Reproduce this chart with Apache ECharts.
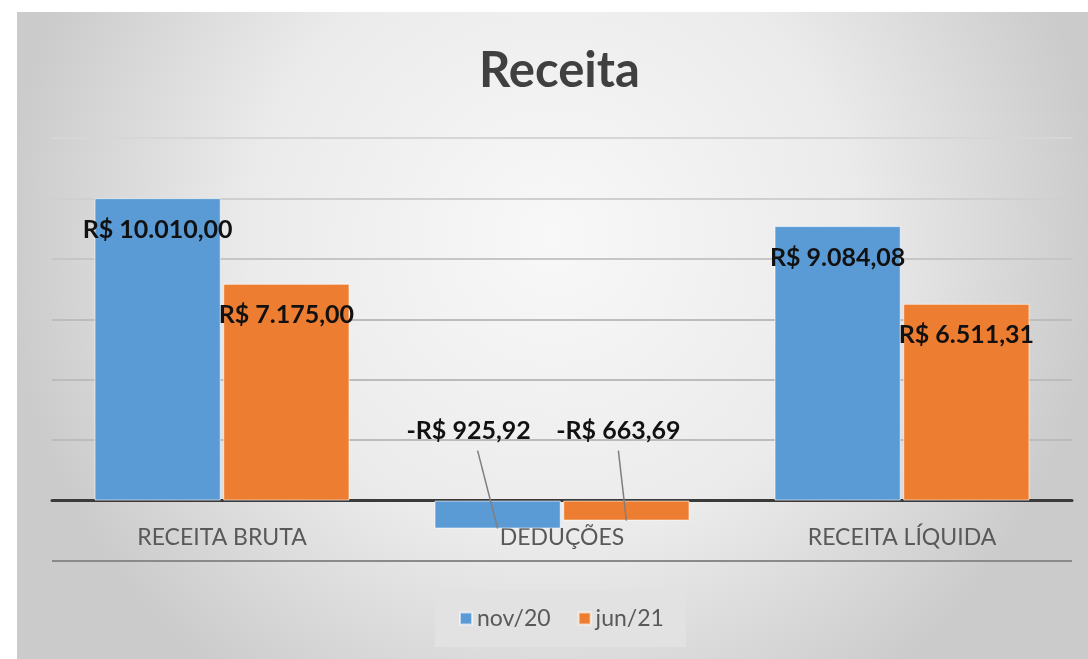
<!DOCTYPE html>
<html>
<head>
    <meta charset="UTF-8">
    <title>Receita</title>
    <script src="https://cdn.jsdelivr.net/npm/echarts/dist/echarts.min.js"></script>
    <style>
        body { margin: 0; background: #ffffff; }
        #chart { position: absolute; left: 17px; top: 12px; width: 1071px; height: 647px; }
    </style>
</head>
<body>
    <div id="chart"></div>
    <script type="text/javascript">
        var myChart = echarts.init(document.getElementById('chart'));

        // data
        var categories = ['RECEITA BRUTA', 'DEDUÇÕES', 'RECEITA LÍQUIDA'];
        var nov20 = [10010.00, -925.92, 9084.08];
        var jun21 = [7175.00, -663.69, 6511.31];

        // pt-BR currency text, e.g. R$ 10.010,00
        function brl(v) {
            var neg = v < 0;
            var parts = Math.abs(v).toFixed(2).split('.');
            var intPart = parts[0].replace(/\B(?=(\d{3})+(?!\d))/g, '.');
            return (neg ? '-' : '') + 'R$ ' + intPart + ',' + parts[1];
        }

        var font = 'Lato, "Open Sans", sans-serif';

        // where the moved labels ended up, so the leader lines can be drawn afterwards
        var leaders = {};

        // labels of the negative bars sit above the axis
        function moveNegative(shift, lineDx) {
            return function (p) {
                if (p.dataIndex !== 1) return {};
                var cx = p.rect.x + p.rect.width / 2;
                var lx = cx + shift;
                var ly = p.rect.y - 70;
                leaders[p.seriesIndex] = [[lx + lineDx, ly + 20], [cx, p.rect.y + p.rect.height]];
                return { x: lx, y: ly, align: 'center', verticalAlign: 'middle' };
            };
        }

        var labelStyle = {
            show: true,
            position: 'insideTop',
            distance: 19,
            color: '#111',
            fontFamily: font,
            fontWeight: 'bold',
            fontSize: 25,
            formatter: function (p) { return brl(p.value); }
        };

        var option = {
            backgroundColor: {
                type: 'radial', x: 0.5, y: 0.35, r: 0.85,
                colorStops: [
                    { offset: 0, color: '#f8f8f8' },
                    { offset: 0.55, color: '#ebebeb' },
                    { offset: 1, color: '#cbcbcb' }
                ]
            },
            title: {
                text: 'Receita',
                left: 457,
                top: 30,
                textStyle: { fontFamily: font, fontSize: 49, fontWeight: 'bold', color: '#404040' }
            },
            legend: {
                bottom: 12,
                left: 418,
                itemWidth: 12,
                itemHeight: 12,
                itemGap: 27,
                padding: [17, 22, 17, 24],
                backgroundColor: '#e2e2e2',
                icon: 'rect',
                textStyle: { fontFamily: font, fontSize: 23, color: '#595959' }
            },
            grid: { left: 35, right: 16, top: 126, bottom: 98 },
            xAxis: {
                type: 'category',
                data: categories,
                axisLine: { lineStyle: { color: '#3a3a3a', width: 3 } },
                axisTick: { show: false },
                axisLabel: { fontFamily: font, fontSize: 23, color: '#595959', margin: -35 }
            },
            yAxis: {
                type: 'value',
                min: -2000,
                max: 12000,
                interval: 2000,
                axisLabel: { show: false },
                axisLine: { show: false },
                axisTick: { show: false },
                splitLine: {
                    lineStyle: {
                        width: 2,
                        color: ['#8a8a8a', '#bcbcbc', '#bcbcbc', '#bcbcbc', '#bcbcbc', '#c6c6c6', '#cfcfcf', '#d6d6d6']
                    }
                }
            },
            series: [
                {
                    name: 'nov/20',
                    type: 'bar',
                    data: nov20,
                    barGap: '2%',
                    barCategoryGap: '25%',
                    itemStyle: { color: '#5b9bd5', borderColor: 'rgba(255,255,255,0.6)', borderWidth: 1 },
                    label: labelStyle,
                    labelLayout: moveNegative(-29, 9)
                },
                {
                    name: 'jun/21',
                    type: 'bar',
                    data: jun21,
                    itemStyle: { color: '#ed7d31', borderColor: 'rgba(255,255,255,0.6)', borderWidth: 1 },
                    label: labelStyle,
                    labelLayout: moveNegative(-8, 0)
                }
            ]
        };

        myChart.setOption(option);

        // leader lines from the moved labels down into their bars
        var linesDrawn = false;
        myChart.on('finished', function () {
            if (linesDrawn) return;
            linesDrawn = true;
            var els = Object.keys(leaders).map(function (k) {
                return {
                    type: 'polyline',
                    z: 100,
                    shape: { points: leaders[k] },
                    style: { stroke: '#7f7f7f', lineWidth: 1.5, fill: null }
                };
            });
            myChart.setOption({ graphic: els });
        });
    </script>
</body>
</html>
